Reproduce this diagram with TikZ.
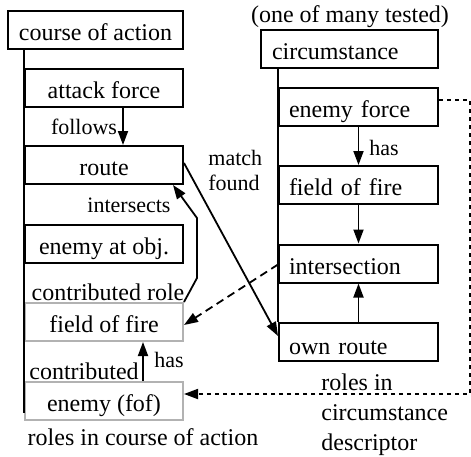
\documentclass[tikz,border=0pt]{standalone}
\usepackage{fontspec}
\setmainfont{Liberation Serif}
\usetikzlibrary{arrows.meta,calc}

\begin{document}
\begin{tikzpicture}[x=0.5pt,y=-0.5pt,
  every node/.style={font=\fontsize{12}{14}\selectfont},
  lbox/.style={draw, line width=1pt, minimum width=79pt, minimum height=19pt,
    inner sep=0pt, text height=10.5pt, text depth=0pt},
  rolebox/.style={lbox, draw=black!30},
  rbox/.style={draw, line width=1pt, minimum height=19pt, inner ysep=0pt,
    inner xsep=5pt, text width=69.5pt, align=left, text height=10.5pt, text depth=0pt},
  link/.style={line width=0.9pt, -{Triangle[length=7pt,width=5pt]}},
  tag/.style={font=\fontsize{11}{12.5}\selectfont, inner sep=0pt},
  note/.style={inner sep=0pt},
]
\useasboundingbox (0,0) rectangle (471,456);

% course of action and its roles
\node[lbox, minimum width=87.5pt] (coa) at (95.5,29.5) {course of action};
\node[lbox] (af) at (104,88) {attack force};
\node[lbox] (route) at (104,165) {route};
\node[lbox] (eao) at (104,243.5) {enemy at obj.};
\node[rolebox] (fofL) at (104,322) {field of fire};
\node[rolebox] (efof) at (104,401) {enemy (fof)};
\draw[line width=1pt] (coa.south -| af.west) -- ($(efof.south west)+(0,-8)$);

% circumstance descriptor and its roles
\node[rbox, text width=77.5pt, inner xsep=5.5pt] (circ) at (349.5,48.5) {circumstance};
\node[rbox] (ef) at (358.5,107) {enemy force};
\node[rbox] (fofR) at (358.5,185) {field of fire};
\node[rbox] (inter) at (358.5,263.5) {intersection};
\node[rbox, text height=13pt] (own) at (358.5,341.5) {own route};
\draw[line width=1pt] (circ.south -| ef.west) -- (own.north west);

% relations inside the course of action
\draw[link] ($(af.south)+(19,0)$) -- ($(route.north)+(19,0)$);
\node[tag] (follows) at (84,127) {follows};
\coordinate (i1) at (197,278);
\coordinate (i2) at (197,218);
\draw[link] (fofL.north east) -- (i1) -- (i2) -- ($(route.south east)+(-11,0)$);
\node[tag] (intersects) at (129,205) {intersects};
\draw[link] ($(efof.north)+(39,0)$) -- ($(fofL.south)+(39,0)$);
\node[tag] (hasL) at (169,360) {has};
\node[note] (crole) at (108,292) {contributed role};
\node[note] (contrib) at (84,371) {contributed};

% relations inside the circumstance
\draw[link] (ef.south) -- (fofR.north);
\node[tag] (hasR) at (384,148) {has};
\draw[link] (fofR.south) -- (inter.north);
\draw[link] (own.north) -- (inter.south);

% matching between the two
\draw[link] ($(route.east)+(0,-2)$) -- ($(own.west)+(0,-5.5)$);
\node[tag, anchor=west, align=left, font=\fontsize{11}{12.5}\selectfont] (match) at (208,170) {match\\found};
\draw[link, dash pattern=on 4pt off 2.5pt] ($(inter.west)+(0,1)$) -- ($(fofL.east)+(0,3)$);
\coordinate (d1) at (470,100);
\coordinate (d2) at (470,394);
\draw[link, dash pattern=on 2pt off 2pt] ($(ef.east)+(0,-7)$) -- (d1) -- (d2) -- ($(efof.east)+(0,-7)$);

% captions
\node[note] (tested) at (350,17) {(one of many tested)};
\node[note] (coaroles) at (143,437) {roles in course of action};
\node[note, anchor=west, align=left, font=\fontsize{12}{15}\selectfont] (cdroles) at (321,415)
  {roles in\\circumstance\\descriptor};
\end{tikzpicture}
\end{document}
